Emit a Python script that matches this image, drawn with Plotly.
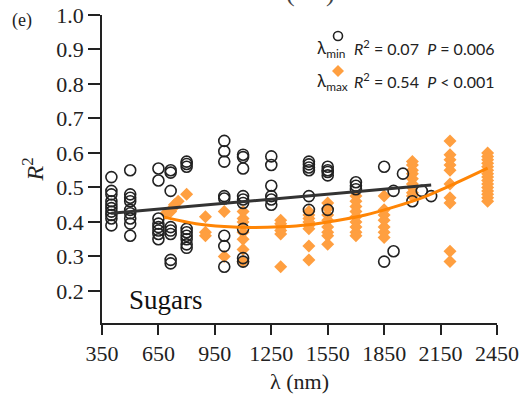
import plotly.graph_objects as go

# ---------------- data ----------------
# lambda_min (open circles): wavelength -> R2 values
min_x = ([400] * 10 + [500] * 9 + [650] * 8 + [715] * 8 + [800] * 9 + [1000] * 8 +
         [1100] * 9 + [1250] * 6 + [1450] * 6 + [1550] * 5 + [1700] * 3 + [1850] * 2 +
         [1900] * 2 + [1950] + [2000] + [2050] + [2100])
min_y = ([0.53, 0.49, 0.48, 0.46, 0.45, 0.44, 0.43, 0.42, 0.41, 0.39] +
         [0.55, 0.48, 0.47, 0.46, 0.435, 0.425, 0.41, 0.395, 0.36] +
         [0.555, 0.52, 0.41, 0.395, 0.385, 0.375, 0.365, 0.35] +
         [0.55, 0.543, 0.49, 0.385, 0.375, 0.365, 0.29, 0.28] +
         [0.575, 0.568, 0.56, 0.38, 0.37, 0.36, 0.35, 0.335, 0.325] +
         [0.635, 0.605, 0.575, 0.475, 0.468, 0.36, 0.33, 0.27] +
         [0.595, 0.588, 0.555, 0.475, 0.465, 0.455, 0.38, 0.295, 0.285] +
         [0.59, 0.565, 0.505, 0.475, 0.465, 0.45] +
         [0.575, 0.567, 0.558, 0.55, 0.475, 0.435] +
         [0.56, 0.55, 0.545, 0.535, 0.435] +
         [0.515, 0.505, 0.495] +
         [0.56, 0.285] +
         [0.49, 0.315] +
         [0.54] + [0.46] + [0.49] + [0.475])

# lambda_max (orange diamonds)
max_x = ([690, 715, 725, 735, 755, 800] + [900] * 3 + [1000] * 2 + [1100] * 7 +
         [1300] * 6 + [1450] * 8 + [1550] * 8 + [1700] * 9 + [1850] * 7 +
         [2000] * 9 + [2200] * 10 + [2400] * 15)
max_y = ([0.425, 0.43, 0.44, 0.45, 0.46, 0.48] +
         [0.415, 0.37, 0.36] +
         [0.43, 0.30] +
         [0.43, 0.41, 0.40, 0.37, 0.35, 0.32, 0.285] +
         [0.405, 0.395, 0.385, 0.375, 0.365, 0.27] +
         [0.43, 0.42, 0.41, 0.40, 0.39, 0.38, 0.33, 0.29] +
         [0.455, 0.44, 0.42, 0.405, 0.385, 0.37, 0.36, 0.335] +
         [0.475, 0.46, 0.445, 0.43, 0.415, 0.40, 0.385, 0.37, 0.36] +
         [0.475, 0.435, 0.42, 0.405, 0.385, 0.37, 0.355] +
         [0.575, 0.565, 0.55, 0.54, 0.525, 0.51, 0.50, 0.485, 0.475] +
         [0.635, 0.595, 0.58, 0.565, 0.55, 0.51, 0.47, 0.455, 0.315, 0.285] +
         [0.60, 0.59, 0.58, 0.57, 0.56, 0.55, 0.54, 0.53, 0.52, 0.51, 0.50,
          0.49, 0.48, 0.47, 0.46])

# fitted trends
fit_min_x = [400, 2100]
fit_min_y = [0.425, 0.507]
fit_max_x = [680, 850, 1000, 1150, 1300, 1450, 1600, 1750, 1900, 2050, 2200, 2400]
fit_max_y = [0.414, 0.395, 0.387, 0.384, 0.386, 0.392, 0.404, 0.420, 0.443, 0.470, 0.505, 0.556]

x_ticks = [350, 650, 950, 1250, 1550, 1850, 2150, 2450]
y_ticks = [0.2, 0.3, 0.4, 0.5, 0.6, 0.7, 0.8, 0.9, 1.0]

# ---------------- figure ----------------
W, H = 524, 404
L, R, T, B = 102, 27, 15, 81
PW, PH = W - L - R, H - T - B

def px(xp):
    return (xp - L) / PW

def py(yp):
    return 1 - (yp - T) / PH

SERIF = "Liberation Serif, Times New Roman, serif"
SANS = "Lato, Liberation Sans, sans-serif"
ORANGE = "#FF9F40"
ORANGE_LINE = "#FF8505"
DARK = "#222222"

fig = go.Figure()
fig.add_trace(go.Scatter(x=max_x, y=max_y, mode="markers",
                         marker=dict(symbol="diamond", size=10, color=ORANGE,
                                     line=dict(width=0)),
                         showlegend=False))
fig.add_trace(go.Scatter(x=min_x, y=min_y, mode="markers",
                         marker=dict(symbol="circle-open", size=11, color=DARK,
                                     line=dict(width=1.6)),
                         showlegend=False))
fig.add_trace(go.Scatter(x=fit_min_x, y=fit_min_y, mode="lines",
                         line=dict(color="#333333", width=3), showlegend=False))
fig.add_trace(go.Scatter(x=fit_max_x, y=fit_max_y, mode="lines",
                         line=dict(color=ORANGE_LINE, width=3, shape="spline"),
                         showlegend=False))

fig.update_xaxes(range=[350, 2450], tickvals=x_ticks,
                 ticktext=[str(v) for v in x_ticks], automargin=False,
                 showline=True, linecolor="#222", linewidth=1.5,
                 ticks="outside", ticklen=10, tickwidth=1.5, tickcolor="#222",
                 showgrid=False, zeroline=False,
                 tickfont=dict(family=SERIF, size=22, color="#222"),
                 title=dict(text="λ (nm)", font=dict(family=SERIF, size=22, color="#222"),
                            standoff=8))
fig.update_yaxes(range=[0.107, 1.0], tickvals=y_ticks,
                 ticktext=[f"{v:.1f}" for v in y_ticks], automargin=False,
                 showline=True, linecolor="#222", linewidth=1.5,
                 ticks="outside", ticklen=12, tickwidth=1.5, tickcolor="#222",
                 showgrid=False, zeroline=False,
                 tickfont=dict(family=SERIF, size=22, color="#222"),
                 title=dict(text="<i>R</i><sup>2</sup>",
                            font=dict(family=SERIF, size=24, color="#222"),
                            standoff=6))

def note(x, y, text, family, size, color="#222", xanchor="center"):
    return dict(x=px(x), y=py(y), xref="paper", yref="paper", text=text,
                showarrow=False, xanchor=xanchor, yanchor="middle",
                font=dict(family=family, size=size, color=color))

ann = [
    note(22, 20, "(e)", SERIF, 18),
    note(127, 300, "Sugars", SERIF, 27, "#111", "left"),
    # cropped caption parentheses at the very top
    note(290, -8, "(", SERIF, 26, "#444"),
    note(330, -8, ")", SERIF, 26, "#444"),
    # legend text
    note(315, 49, "λ<sub>min</sub>", SANS, 17, xanchor="left"),
    note(352, 47, "<i>R</i><sup>2</sup> = 0.07  <i>P</i> = 0.006", SANS, 16, xanchor="left"),
    note(315, 82, "λ<sub>max</sub>", SANS, 17, xanchor="left"),
    note(352, 80, "<i>R</i><sup>2</sup> = 0.54  <i>P</i> < 0.001", SANS, 16, xanchor="left"),
]

shapes = [
    dict(type="circle", xref="paper", yref="paper",
         x0=px(333.5), x1=px(342.5), y0=py(40.5), y1=py(31.5),
         line=dict(color=DARK, width=1.6)),
    dict(type="path", xref="paper", yref="paper",
         path=(f"M {px(338)} {py(65)} L {px(344)} {py(71)} "
               f"L {px(338)} {py(77)} L {px(332)} {py(71)} Z"),
         fillcolor=ORANGE, line=dict(width=0)),
]

fig.update_layout(width=W, height=H, margin=dict(l=L, r=R, t=T, b=B),
                  plot_bgcolor="white", paper_bgcolor="white",
                  annotations=ann, shapes=shapes, showlegend=False)

fig.write_html("out.html")
